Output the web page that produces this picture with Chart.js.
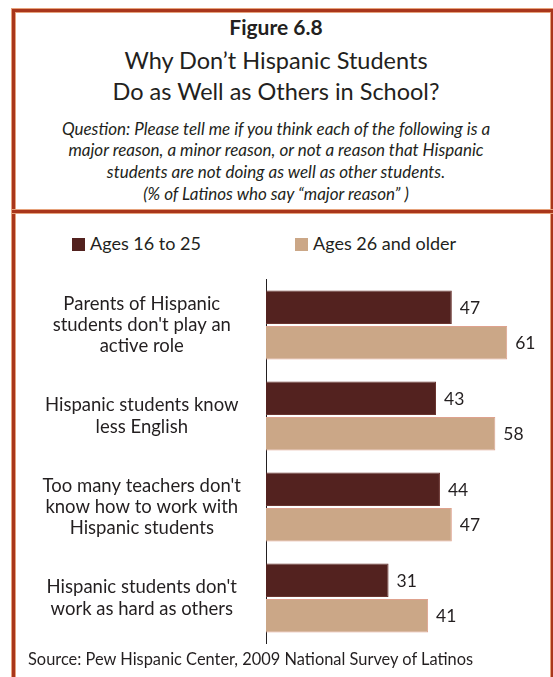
<!DOCTYPE html>
<html>
<head>
<meta charset="utf-8">
<script src="https://cdn.jsdelivr.net/npm/chart.js@4"></script>
<style>
  body { margin: 0; width: 553px; height: 677px; overflow: hidden; background: #fff;
         font-family: Lato, sans-serif; color: #231f20; position: relative; }
  .frame { position: absolute; left: 12px; top: 9px; width: 542px; height: 720px;
           border: 3px solid #a9361b; box-sizing: border-box; box-shadow: 0 0 0 1px #e6a27c, inset 0 0 0 1px #e6a27c; }
  .rule { position: absolute; left: 12px; top: 210px; width: 542px; height: 3px; background: #a9361b;
          box-shadow: 0 0 0 1px #e6a27c; }
  .hd { position: absolute; left: 15px; width: 522px; text-align: center; white-space: nowrap; }
  .fig { top: 15px; font-size: 21px; line-height: 24px; font-weight: bold; }
  .ttl { font-size: 23.5px; line-height: 26px; }
  .q { font-size: 17px; line-height: 20px; font-style: italic; }
  #legend { position: absolute; top: 231px; left: 0; width: 553px; height: 24px; font-size: 18px; }
  #legend span { position: absolute; top: 0; line-height: 24px; white-space: nowrap; }
  #legend i { display: inline-block; width: 13px; height: 13px; margin-right: 5px; vertical-align: -1px; }
  #wrap { position: absolute; left: 15px; top: 270px; width: 536px; height: 385px; }
  .src { position: absolute; left: 28px; top: 648px; font-size: 16.4px; line-height: 22px; white-space: nowrap; }
</style>
</head>
<body>
<div class="frame"></div>
<div class="rule"></div>
<div class="hd fig">Figure 6.8</div>
<div class="hd ttl" style="top:47px">Why Don’t Hispanic Students</div>
<div class="hd ttl" style="top:78px">Do as Well as Others in School?</div>
<div class="hd q" style="top:119px">Question: Please tell me if you think each of the following is a</div>
<div class="hd q" style="top:140px">major reason, a minor reason, or not a reason that Hispanic</div>
<div class="hd q" style="top:162px">students are not doing as well as other students.</div>
<div class="hd q" style="top:184px">(% of Latinos who say “major reason” )</div>
<div id="legend"></div>
<div id="wrap"><canvas id="chart"></canvas></div>
<div class="src">Source: Pew Hispanic Center, 2009 National Survey of Latinos</div>

<script>
// survey answers, % saying "major reason"
const reasons = [
  ['Parents of Hispanic', "students don't play an", 'active role'],
  ['Hispanic students know', 'less English'],
  ["Too many teachers don't", 'know how to work with', 'Hispanic students'],
  ["Hispanic students don't", 'work as hard as others']
];
const seriesNames = ['Ages 16 to 25', 'Ages 26 and older'];
const ages16to25 = [47, 43, 44, 31];
const ages26plus = [61, 58, 47, 41];

const darkBrown = '#53221f';
const tan = '#cba787';

// legend built by hand so the two entries sit where we want them
const legendX = [72, 295];
const legend = document.getElementById('legend');
seriesNames.forEach((name, i) => {
  const s = document.createElement('span');
  s.style.left = legendX[i] + 'px';
  s.innerHTML = '<i style="background:' + [darkBrown, tan][i] + '"></i>' + name;
  legend.appendChild(s);
});

const valueLabels = {
  id: 'valueLabels',
  afterDatasetsDraw(chart) {
    const ctx = chart.ctx;
    ctx.save();
    ctx.font = '17.5px Lato';
    ctx.fillStyle = '#231f20';
    ctx.textBaseline = 'middle';
    ctx.textAlign = 'left';
    chart.data.datasets.forEach((ds, i) => {
      chart.getDatasetMeta(i).data.forEach((bar, j) => {
        ctx.fillText(ds.data[j], bar.x + 8, bar.y + 1);
      });
    });
    ctx.restore();
  }
};

new Chart(document.getElementById('chart'), {
  type: 'bar',
  data: {
    labels: reasons,
    datasets: [{
      label: seriesNames[0],
      data: ages16to25,
      backgroundColor: darkBrown,
      borderColor: '#6b3530',
      borderWidth: 1,
      borderSkipped: 'left'
    }, {
      label: seriesNames[1],
      data: ages26plus,
      backgroundColor: tan,
      borderColor: '#dea28e',
      borderWidth: 1,
      borderSkipped: 'left'
    }]
  },
  options: {
    indexAxis: 'y',
    responsive: true,
    maintainAspectRatio: false,
    animation: false,
    categoryPercentage: 0.78,
    barPercentage: 0.94,
    layout: { padding: { top: 9.5, bottom: 11.5, right: 28 } },
    scales: {
      x: { display: false, min: 0, max: 65 },
      y: {
        grid: { display: false },
        border: { color: '#231f20', width: 1 },
        ticks: {
          color: '#231f20',
          crossAlign: 'center',
          padding: 17,
          font: { family: 'Lato', size: 18.5, lineHeight: 1.14 }
        },
        afterFit(scale) {
          // keep the multi-line labels from pushing the plot area inwards
          scale.width = 251;
          scale.paddingTop = 0;
          scale.paddingBottom = 0;
        }
      }
    },
    plugins: {
      legend: { display: false },
      tooltip: { enabled: false }
    }
  },
  plugins: [valueLabels]
});
</script>
</body>
</html>
